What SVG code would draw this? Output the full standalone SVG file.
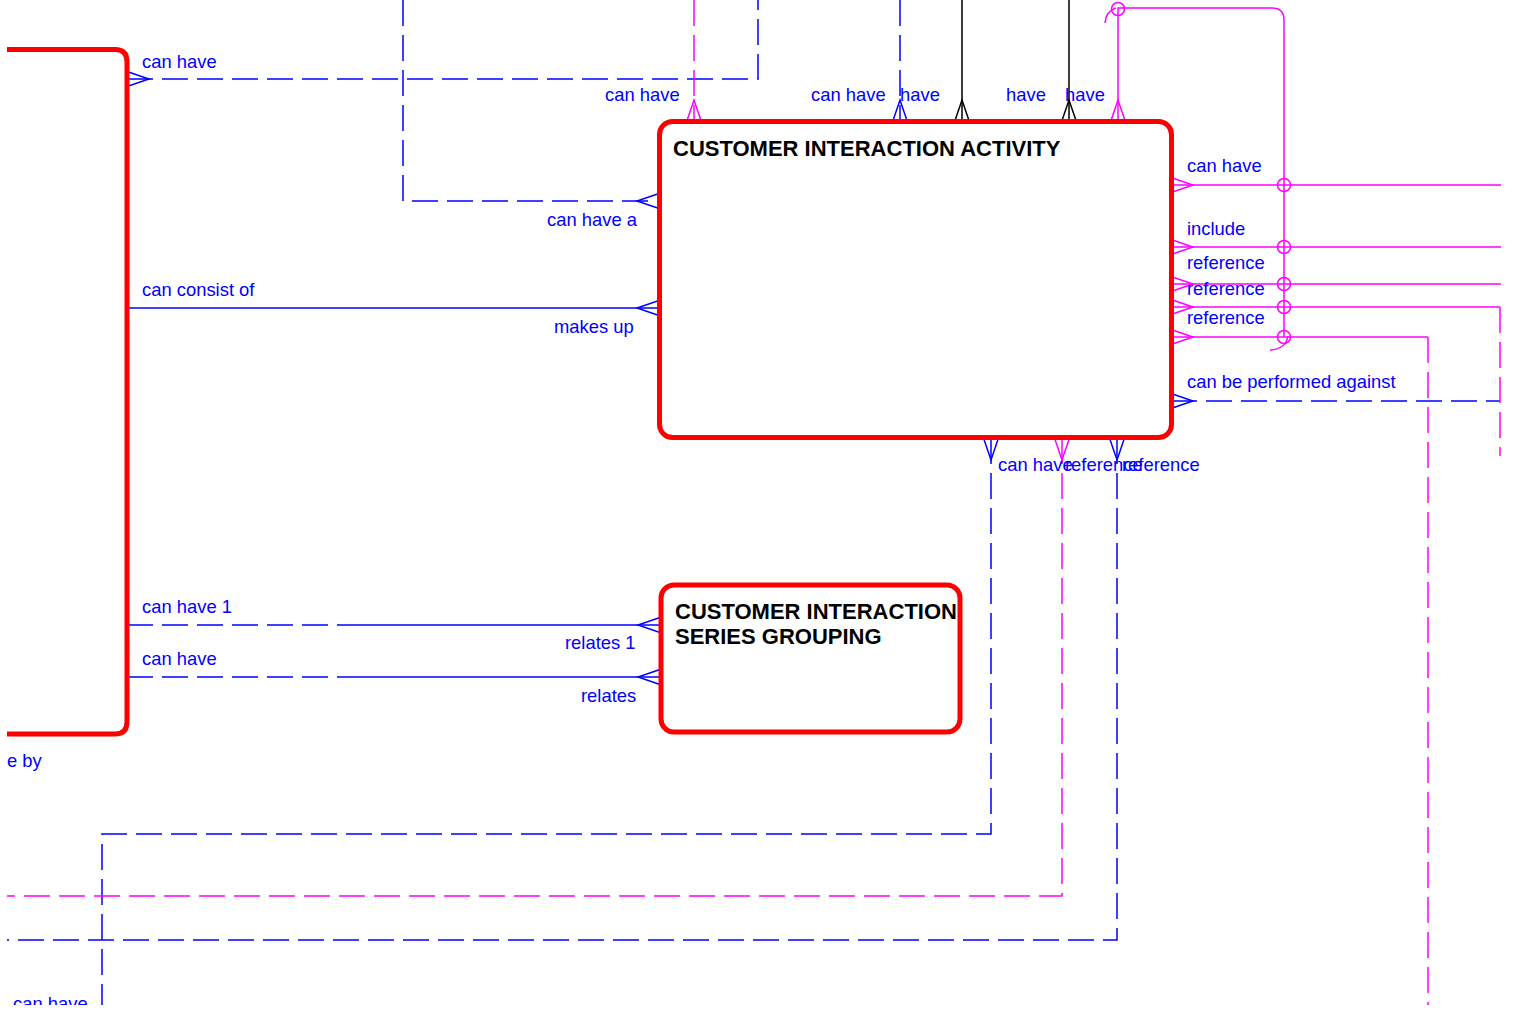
<svg xmlns="http://www.w3.org/2000/svg" xmlns:xlink="http://www.w3.org/1999/xlink" width="1517" height="1011" viewBox="0 0 1517 1011">
<style>
.ent{fill:#fff;stroke:#ff0000;stroke-width:5}
.entl{fill:none;stroke:#ff0000;stroke-width:5}
.t{font-family:"Liberation Sans",Arial,sans-serif;font-size:22px;font-weight:bold;fill:#000}
.l{font-family:"Liberation Sans",Arial,sans-serif;font-size:18.4px;fill:#0000ff}
.b{stroke:#0000ff;fill:none;stroke-width:1.5}
.m{stroke:#ff00ff;fill:none;stroke-width:1.5}
.k{stroke:#000;fill:none;stroke-width:1.5}
.d{stroke-dasharray:26 9}
</style>
<defs>
<path id="cf" d="M0,-7.5 L22,0 L0,7.5"/>
<clipPath id="clip"><rect x="7" y="0" width="1494" height="1005"/></clipPath>
</defs>
<rect width="1517" height="1011" fill="#fff"/>
<g clip-path="url(#clip)">
<g id="connectors">
<path class="b d" d="M127,79 H758 V0"/>
<path class="b d" d="M403,0 V201 H659"/>
<path class="b d" d="M900,0 V122"/>
<path class="b d" d="M1171,401 H1500"/>
<path class="b d" d="M991,438 V834 H102 V1011"/>
<path class="b d" d="M1117,438 V940 H7"/>
<path class="b" d="M127,308 H659"/>
<path class="b d" d="M127,625 H340"/>
<path class="b" d="M340,625 H660"/>
<path class="b d" d="M127,677 H340"/>
<path class="b" d="M340,677 H660"/>
<path class="m d" d="M694,0 V122"/>
<path class="m d" d="M1062,438 V896 H7"/>
<path class="m" d="M1171,307 H1500"/>
<path class="m d" d="M1500,307 V456"/>
<path class="m" d="M1171,337 H1428"/>
<path class="m d" d="M1428,337 V1011"/>
<path class="m" d="M1118,122 V8 H1272 Q1284,8 1284,20 V337"/>
<path class="m" d="M1105,23 Q1106,11 1116,8"/>
<path class="m" d="M1288,336 Q1286,349 1270,350"/>
<path class="m" d="M1171,185 H1501 M1171,247 H1501 M1171,284 H1501"/>
<path class="k" d="M962,0 V122 M1069,0 V122"/>
<circle class="m" cx="1118" cy="9" r="6.5"/>
<circle class="m" cx="1284" cy="185" r="6.5"/>
<circle class="m" cx="1284" cy="247" r="6.5"/>
<circle class="m" cx="1284" cy="284" r="6.5"/>
<circle class="m" cx="1284" cy="307" r="6.5"/>
<circle class="m" cx="1284" cy="337" r="6.5"/>
<use href="#cf" class="b" transform="translate(127,79)"/>
<use href="#cf" class="b" transform="translate(659,201) rotate(180)"/>
<use href="#cf" class="b" transform="translate(659,308) rotate(180)"/>
<use href="#cf" class="b" transform="translate(660,625) rotate(180)"/>
<use href="#cf" class="b" transform="translate(660,677) rotate(180)"/>
<use href="#cf" class="m" transform="translate(694,122) rotate(-90)"/>
<use href="#cf" class="b" transform="translate(900,122) rotate(-90)"/>
<use href="#cf" class="k" transform="translate(962,122) rotate(-90)"/>
<use href="#cf" class="k" transform="translate(1069,122) rotate(-90)"/>
<use href="#cf" class="m" transform="translate(1118,122) rotate(-90)"/>
<use href="#cf" class="m" transform="translate(1171,185)"/>
<use href="#cf" class="m" transform="translate(1171,247)"/>
<use href="#cf" class="m" transform="translate(1171,284)"/>
<use href="#cf" class="m" transform="translate(1171,307)"/>
<use href="#cf" class="m" transform="translate(1171,337)"/>
<use href="#cf" class="b" transform="translate(1171,401)"/>
<use href="#cf" class="b" transform="translate(991,438) rotate(90)"/>
<use href="#cf" class="m" transform="translate(1062,438) rotate(90)"/>
<use href="#cf" class="b" transform="translate(1117,438) rotate(90)"/>
</g>
<g id="labels">
<text class="l" x="142" y="68">can have</text>
<text class="l" x="605" y="101">can have</text>
<text class="l" x="547" y="226">can have a</text>
<text class="l" x="811" y="101">can have</text>
<text class="l" x="900" y="101">have</text>
<text class="l" x="1006" y="101">have</text>
<text class="l" x="1065" y="101">have</text>
<text class="l" x="1187" y="172">can have</text>
<text class="l" x="1187" y="235">include</text>
<text class="l" x="1187" y="269">reference</text>
<text class="l" x="1187" y="295">reference</text>
<text class="l" x="1187" y="324">reference</text>
<text class="l" x="1187" y="388">can be performed against</text>
<text class="l" x="998" y="471">can have</text>
<text class="l" x="1065" y="471">reference</text>
<text class="l" x="1122" y="471">reference</text>
<text class="l" x="142" y="296">can consist of</text>
<text class="l" x="554" y="333">makes up</text>
<text class="l" x="142" y="613">can have 1</text>
<text class="l" x="565" y="649">relates 1</text>
<text class="l" x="142" y="665">can have</text>
<text class="l" x="581" y="702">relates</text>
<text class="l" x="7" y="767">e by</text>
<text class="l" x="13" y="1010">can have</text>
</g>
<g id="left-entity">
<path class="entl" d="M7,49.5 H115 Q127,49.5 127,61.5 V722 Q127,734 115,734 H7"/>
</g>
<g id="customer-interaction-activity">
<rect class="ent" x="659.5" y="121.5" width="512" height="316" rx="13"/>
<text class="t" x="673" y="156">CUSTOMER INTERACTION ACTIVITY</text>
</g>
<g id="customer-interaction-series-grouping">
<rect class="ent" x="661" y="585" width="299" height="147" rx="13"/>
<text class="t" x="675" y="619">CUSTOMER INTERACTION</text>
<text class="t" x="675" y="644">SERIES GROUPING</text>
</g>
</g>
</svg>
